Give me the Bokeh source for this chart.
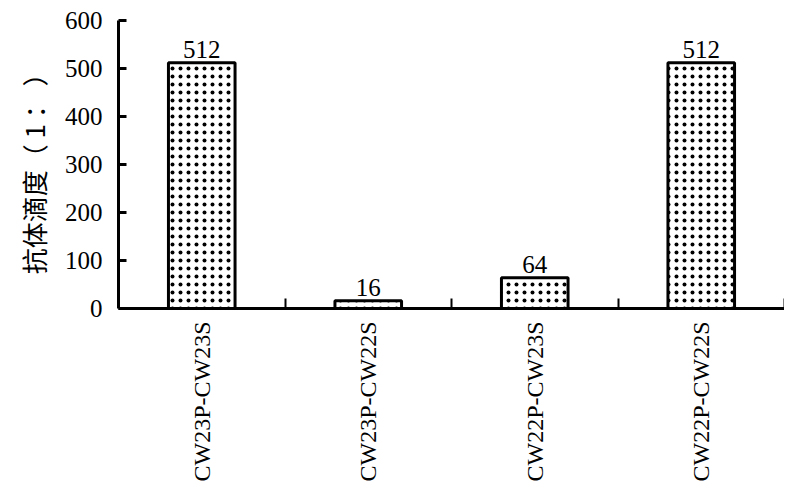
from bokeh.plotting import figure
from bokeh.models import Range1d, FixedTicker, ColumnDataSource
from bokeh.embed import file_html
from bokeh.resources import INLINE
from bokeh.core.properties import value
import math

categories = ["CW23P-CW23S", "CW23P-CW22S", "CW22P-CW23S", "CW22P-CW22S"]
titers = [512, 16, 64, 512]
y_ticks = [0, 100, 200, 300, 400, 500, 600]
y_label = "抗体滴度（ 1 ：  ）"

xs = [i + 0.5 for i in range(len(categories))]
bounds = [i + 1 for i in range(len(categories))]
src = ColumnDataSource(dict(x=xs, top=titers, lab=[str(v) for v in titers]))

p = figure(width=784, height=484, output_backend="svg", toolbar_location=None,
           x_range=Range1d(0, len(categories)), y_range=Range1d(0, 600),
           min_border_left=118, min_border_right=0, min_border_top=20, min_border_bottom=176)
p.outline_line_color = None
p.grid.grid_line_color = None

p.vbar(x="x", top="top", width=0.4, source=src, fill_color="white",
       line_color="black", line_width=3, hatch_pattern="dot", hatch_color="black",
       hatch_scale=8, hatch_weight=2.5)
p.text(x="x", y="top", text="lab", source=src, text_align="center", text_baseline="bottom",
       y_offset=-5, text_font=value("Liberation Serif"), text_font_size="25px", text_color="black")

serif = "Liberation Serif"
ya = p.yaxis[0]
ya.ticker = FixedTicker(ticks=y_ticks)
ya.axis_line_width = 3
ya.axis_line_color = "black"
ya.major_tick_line_width = 3
ya.major_tick_line_color = "black"
ya.major_tick_in = 8
ya.major_tick_out = 0
ya.minor_tick_line_color = None
ya.major_label_text_font = serif
ya.major_label_text_font_size = "25px"
ya.major_label_text_color = "black"
ya.major_label_standoff = 16
ya.axis_label = y_label
ya.axis_label_text_font = "Noto Sans CJK SC"
ya.axis_label_text_font_style = "normal"
ya.axis_label_text_font_size = "26px"
ya.axis_label_text_color = "black"
ya.axis_label_standoff = 10

xa = p.xaxis[0]
xa.ticker = FixedTicker(ticks=xs, minor_ticks=bounds)
xa.major_label_overrides = {x: c for x, c in zip(xs, categories)}
xa.major_tick_line_color = None
xa.minor_tick_in = 10
xa.minor_tick_out = 0
xa.minor_tick_line_width = 2
xa.minor_tick_line_color = "black"
xa.axis_line_width = 3
xa.axis_line_color = "black"
xa.major_label_orientation = math.pi / 2
xa.major_label_text_font = serif
xa.major_label_text_font_size = "24px"
xa.major_label_text_color = "black"
xa.major_label_standoff = 7

open("out.html", "w").write(file_html(p, INLINE))
